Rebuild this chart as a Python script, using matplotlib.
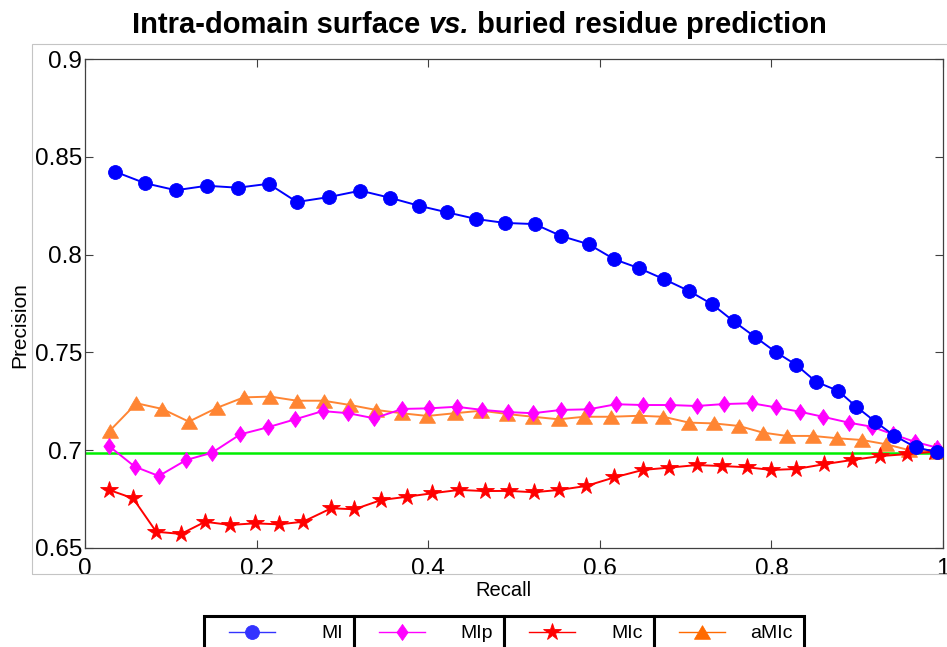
import matplotlib
matplotlib.use('Agg')
import matplotlib.pyplot as plt
from matplotlib.patches import Rectangle
from matplotlib.lines import Line2D

plt.rcParams['font.family'] = ['Liberation Sans', 'DejaVu Sans']

# data
series_names = ['MI', 'MIp', 'MIc', 'aMIc']

recall_mi = [0.035, 0.070, 0.106, 0.142, 0.178, 0.214, 0.247, 0.284, 0.321, 0.355, 0.389,
             0.422, 0.456, 0.489, 0.524, 0.555, 0.587, 0.617, 0.646, 0.675, 0.704, 0.731,
             0.756, 0.781, 0.805, 0.829, 0.852, 0.878, 0.899, 0.921, 0.943, 0.968, 0.993]
prec_mi = [0.8424, 0.8365, 0.8329, 0.8352, 0.8342, 0.8362, 0.8269, 0.8294, 0.8327, 0.8291,
           0.8250, 0.8216, 0.8182, 0.8162, 0.8156, 0.8095, 0.8053, 0.7976, 0.7930, 0.7874,
           0.7814, 0.7746, 0.7659, 0.7579, 0.7502, 0.7436, 0.7350, 0.7303, 0.7222, 0.7146,
           0.7075, 0.7015, 0.6990]

recall_mip = [0.028, 0.058, 0.086, 0.118, 0.148, 0.181, 0.213, 0.245, 0.277, 0.307, 0.337,
              0.370, 0.401, 0.433, 0.463, 0.493, 0.522, 0.555, 0.587, 0.619, 0.650, 0.682,
              0.713, 0.745, 0.777, 0.805, 0.833, 0.860, 0.890, 0.917, 0.942, 0.967, 0.993]
prec_mip = [0.7021, 0.6916, 0.6868, 0.6950, 0.6987, 0.7081, 0.7117, 0.7158, 0.7200, 0.7189,
            0.7163, 0.7211, 0.7214, 0.7222, 0.7206, 0.7195, 0.7189, 0.7206, 0.7209, 0.7235,
            0.7231, 0.7231, 0.7226, 0.7236, 0.7240, 0.7219, 0.7197, 0.7171, 0.7141, 0.7120,
            0.7081, 0.7043, 0.7013]

recall_mic = [0.028, 0.056, 0.083, 0.112, 0.140, 0.169, 0.198, 0.226, 0.254, 0.287, 0.314,
              0.345, 0.375, 0.405, 0.436, 0.466, 0.494, 0.523, 0.553, 0.584, 0.617, 0.650,
              0.681, 0.713, 0.742, 0.771, 0.800, 0.829, 0.861, 0.894, 0.927, 0.958, 0.989]
prec_mic = [0.6797, 0.6754, 0.6583, 0.6572, 0.6634, 0.6618, 0.6626, 0.6621, 0.6634, 0.6703,
            0.6698, 0.6745, 0.6762, 0.6780, 0.6797, 0.6791, 0.6792, 0.6785, 0.6797, 0.6817,
            0.6861, 0.6899, 0.6911, 0.6924, 0.6919, 0.6913, 0.6899, 0.6904, 0.6928, 0.6950,
            0.6970, 0.6980, 0.6992]

recall_amic = [0.029, 0.060, 0.090, 0.121, 0.154, 0.185, 0.216, 0.247, 0.278, 0.309, 0.339,
               0.369, 0.399, 0.431, 0.462, 0.492, 0.522, 0.552, 0.582, 0.613, 0.646, 0.674,
               0.704, 0.733, 0.762, 0.790, 0.818, 0.848, 0.877, 0.906, 0.934, 0.960, 0.993]
prec_amic = [0.7100, 0.7240, 0.7211, 0.7146, 0.7217, 0.7270, 0.7274, 0.7253, 0.7253, 0.7231,
             0.7206, 0.7189, 0.7175, 0.7189, 0.7202, 0.7185, 0.7171, 0.7158, 0.7171, 0.7171,
             0.7176, 0.7171, 0.7141, 0.7137, 0.7124, 0.7090, 0.7073, 0.7073, 0.7061, 0.7052,
             0.7030, 0.7001, 0.6992]

baseline = 0.6988

x_ticks = [0, 0.2, 0.4, 0.6, 0.8, 1]
x_tick_labels = ['0', '0.2', '0.4', '0.6', '0.8', '1']
y_ticks = [0.65, 0.7, 0.75, 0.8, 0.85, 0.9]
y_tick_labels = ['0.65', '0.7', '0.75', '0.8', '0.85', '0.9']

# styles
diamond = [(0, 1), (0.7, 0), (0, -1), (-0.7, 0), (0, 1)]
triangle = [(0, 0.85), (1, -0.85), (-1, -0.85), (0, 0.85)]
styles = {
    'MI': dict(color='#0000ff', marker='o', ms=10, legend_color='#3333ff'),
    'MIp': dict(color='#ff00ff', marker=diamond, ms=11.5, legend_color='#ff00ff'),
    'MIc': dict(color='#ff0000', marker='*', ms=13, legend_color='#ff0000'),
    'aMIc': dict(color='#ff8533', marker=triangle, ms=11.5, legend_color='#ff6a00'),
}
data = {
    'MI': (recall_mi, prec_mi),
    'MIp': (recall_mip, prec_mip),
    'MIc': (recall_mic, prec_mic),
    'aMIc': (recall_amic, prec_amic),
}

W, H = 947, 647
fig = plt.figure(figsize=(W / 100, H / 100), dpi=100)


def fx(px):
    return px / W


def fy(py):
    return 1 - py / H


ax = fig.add_axes([fx(85), fy(548), fx(943) - fx(85), fy(59) - fy(548)])

ax.axhline(baseline, color='#00ee00', lw=1.8, zorder=1)
for i, name in enumerate(['aMIc', 'MIc', 'MIp', 'MI']):
    st = styles[name]
    x, y = data[name]
    ax.plot(x, y, color=st['color'], marker=st['marker'], ms=st['ms'], lw=1.4,
            markeredgewidth=0.6, zorder=2 + i)

ax.set_xlim(0, 1)
ax.set_ylim(0.65, 0.9)
ax.set_xticks(x_ticks)
ax.set_xticklabels(x_tick_labels)
ax.set_yticks(y_ticks)
ax.set_yticklabels(y_tick_labels)
ax.tick_params(direction='in', length=6, width=0.8, color='#404040',
               top=True, right=True, labelsize=17.5)
ax.tick_params(axis='x', pad=7)
ax.tick_params(axis='y', pad=2)
for sp in ax.spines.values():
    sp.set_color('#404040')
    sp.set_linewidth(0.9)

ax.set_xlabel('Recall', fontsize=14.5)
ax.xaxis.label.set_va('center')
ax.xaxis.set_label_coords((503 - 85) / 858, (548 - 590) / 489)
ax.set_ylabel('Precision', fontsize=15)
ax.yaxis.label.set_va('center')
ax.yaxis.set_label_coords((20 - 85) / 858, (548 - 325) / 489)

# light gray frame around the plot region
fig.patches.append(Rectangle((fx(32), fy(574)), 1.2, fy(44) - fy(574), fill=False,
                             edgecolor='#c4c4c4', lw=0.8, transform=fig.transFigure))

# title with italic "vs."
renderer = fig.canvas.get_renderer()
parts = [('Intra-domain surface ', 'normal'), ('vs.', 'italic'),
         (' buried residue prediction', 'normal')]
texts = []
for s, style in parts:
    t = fig.text(0, fy(33), s, fontsize=21, fontweight='bold', style=style,
                 va='baseline', ha='left')
    texts.append(t)
widths = [t.get_window_extent(renderer).width for t in texts]
x0 = 479 - sum(widths) / 2
for t, w in zip(texts, widths):
    t.set_x(fx(x0))
    x0 += w

# legend: four separate boxes, cut off by the bottom edge
box_left = [204, 353.5, 503.5, 653.5]
box_w = 150
for name, l in zip(series_names, box_left):
    st = styles[name]
    fig.patches.append(Rectangle((fx(l), -0.1), box_w / W, fy(616) + 0.1,
                                 facecolor='white', edgecolor='black', lw=2.2,
                                 transform=fig.transFigure, zorder=5))
    fig.lines.append(Line2D([fx(l + 25), fx(l + 71)], [fy(632), fy(632)],
                            color=st['legend_color'], lw=1.0,
                            transform=fig.transFigure, zorder=6))
    fig.lines.append(Line2D([fx(l + 48)], [fy(632)], color=st['legend_color'],
                            marker=st['marker'], ms=st['ms'], lw=0,
                            markeredgewidth=0.6, transform=fig.transFigure, zorder=7))
    fig.text(fx(l + 139), fy(633), name, fontsize=14, ha='right', va='center', zorder=8)

fig.savefig('out.png', dpi=100)
